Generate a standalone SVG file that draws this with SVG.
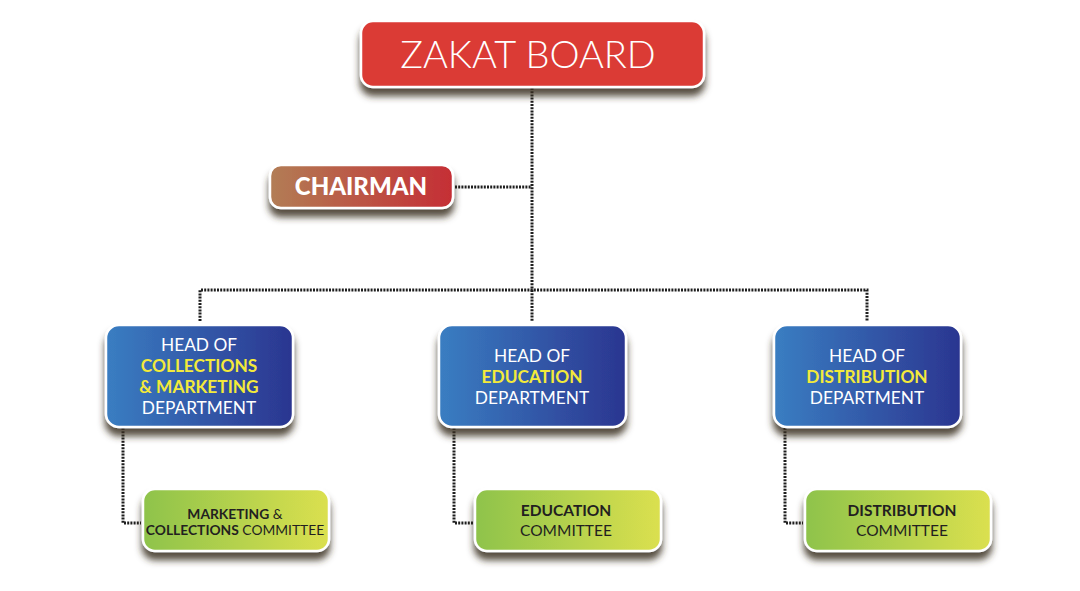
<svg xmlns="http://www.w3.org/2000/svg" width="1080" height="591" viewBox="0 0 1080 591">
<defs>
<linearGradient id="gChair" x1="0" y1="0" x2="1" y2="0"><stop offset="0" stop-color="#b27d55"/><stop offset="1" stop-color="#c52e35"/></linearGradient>
<linearGradient id="gBlue" x1="0" y1="0" x2="1" y2="0"><stop offset="0" stop-color="#3a7ec2"/><stop offset="1" stop-color="#2b3590"/></linearGradient>
<linearGradient id="gGreen" x1="0" y1="0" x2="1" y2="0"><stop offset="0" stop-color="#8ec34b"/><stop offset="1" stop-color="#dbe04f"/></linearGradient>
<filter id="sh" x="-10%" y="-20%" width="120%" height="160%">
<feGaussianBlur in="SourceAlpha" stdDeviation="3.5"/>
<feOffset dx="0" dy="8" result="b"/>
<feFlood flood-color="#3a3020" flood-opacity="0.85"/>
<feComposite in2="b" operator="in"/>
<feMerge><feMergeNode/><feMergeNode in="SourceGraphic"/></feMerge>
</filter>
</defs>
<style>
.box{stroke:#fff;stroke-width:2.5;filter:url(#sh)}
.ln{fill:none;stroke:#1e1e1e;stroke-width:3;stroke-dasharray:2 1.2}
.t{font-family:Lato,"Open Sans",sans-serif;text-anchor:middle}
.w{fill:#fff;font-size:17.3px}
.y{fill:#f3ea3a;font-weight:bold}
.d{fill:#231f20;font-size:15.5px}
.s{font-size:13.8px}
.b{font-weight:bold}
</style>
<rect width="1080" height="591" fill="#fff"/>
<g id="connectors">
<path class="ln" d="M532 88 V290"/>
<path class="ln" d="M455 187 H532"/>
<path class="ln" d="M200 321 V290 H867 V321"/>
<path class="ln" d="M532 290 V321"/>
<path class="ln" d="M123 428 V523 H141"/>
<path class="ln" d="M454 428 V523 H473"/>
<path class="ln" d="M785 428 V523 H803"/>
</g>
<g id="zakat-board">
<rect class="box" x="361" y="21" width="343" height="66" rx="12" fill="#db3a35"/>
<text class="t" x="528" y="68" fill="#fff" font-size="38" font-weight="300">ZAKAT BOARD</text>
</g>
<g id="chairman">
<rect class="box" x="270" y="165" width="183" height="43" rx="11" fill="url(#gChair)"/>
<text class="t" x="361" y="195" fill="#fff" font-size="24" font-weight="900">CHAIRMAN</text>
</g>
<g id="head-collections">
<rect class="box" x="106" y="325" width="187" height="102" rx="13" fill="url(#gBlue)"/>
<text class="t w" x="199" y="351">HEAD OF</text>
<text class="t w y" x="199" y="372">COLLECTIONS</text>
<text class="t w y" x="199" y="393">&amp; MARKETING</text>
<text class="t w" x="199" y="414">DEPARTMENT</text>
</g>
<g id="head-education">
<rect class="box" x="439" y="325" width="187" height="102" rx="13" fill="url(#gBlue)"/>
<text class="t w" x="532" y="362">HEAD OF</text>
<text class="t w y" x="532" y="383">EDUCATION</text>
<text class="t w" x="532" y="404">DEPARTMENT</text>
</g>
<g id="head-distribution">
<rect class="box" x="774" y="325" width="187" height="102" rx="13" fill="url(#gBlue)"/>
<text class="t w" x="867" y="362">HEAD OF</text>
<text class="t w y" x="867" y="383">DISTRIBUTION</text>
<text class="t w" x="867" y="404">DEPARTMENT</text>
</g>
<g id="committee-marketing">
<rect class="box" x="143" y="489" width="186" height="62" rx="12" fill="url(#gGreen)"/>
<text class="t d s" x="235" y="519"><tspan class="b">MARKETING</tspan> &amp;</text>
<text class="t d s" x="235" y="535"><tspan class="b">COLLECTIONS</tspan> COMMITTEE</text>
</g>
<g id="committee-education">
<rect class="box" x="475" y="489" width="186" height="62" rx="12" fill="url(#gGreen)"/>
<text class="t d b" x="566" y="516">EDUCATION</text>
<text class="t d" x="566" y="536">COMMITTEE</text>
</g>
<g id="committee-distribution">
<rect class="box" x="805" y="489" width="186" height="62" rx="12" fill="url(#gGreen)"/>
<text class="t d b" x="902" y="516">DISTRIBUTION</text>
<text class="t d" x="902" y="536">COMMITTEE</text>
</g>
</svg>
